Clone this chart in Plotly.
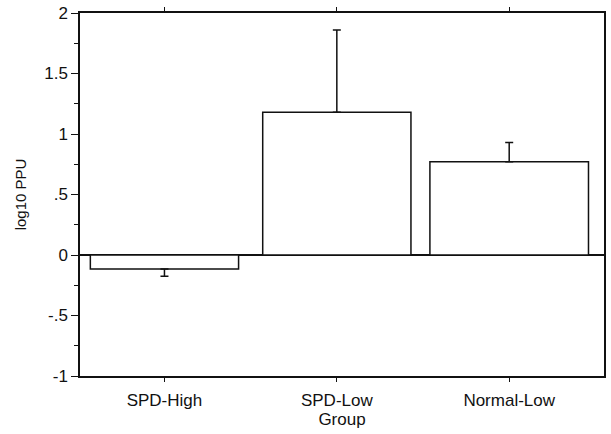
import plotly.graph_objects as go

categories = ["SPD-High", "SPD-Low", "Normal-Low"]
means = [-0.115, 1.18, 0.77]
err_up = [0.0, 0.68, 0.16]
err_down = [0.06, 0.0, 0.0]
y_tick_vals = [-1, -0.5, 0, 0.5, 1, 1.5, 2]
y_tick_text = ["-1", "-.5", "0", ".5", "1", "1.5", "2"]

FONT = "Liberation Sans, Arial, sans-serif"
INK = "#111111"

fig = go.Figure()
fig.add_trace(go.Bar(
    x=list(range(len(categories))),
    y=means,
    width=[0.86, 0.86, 0.92],
    marker=dict(color="white", line=dict(color=INK, width=1.5)),
    error_y=dict(type="data", symmetric=False, array=err_up, arrayminus=err_down,
                 color=INK, thickness=1.5, width=4),
    showlegend=False,
))

fig.update_layout(
    width=611, height=434,
    margin=dict(l=80, r=7, t=13, b=58),
    paper_bgcolor="white", plot_bgcolor="white",
    font=dict(family=FONT, color=INK),
    xaxis=dict(
        automargin=False,
        range=[-0.49, 2.55],
        tickvals=list(range(len(categories))),
        ticktext=categories,
        ticks="outside", ticklen=4, tickwidth=1.2, tickcolor=INK,
        ticklabelstandoff=4,
        showline=True, linecolor=INK, linewidth=1.5, mirror="allticks",
        showgrid=False, zeroline=False,
        tickfont=dict(size=17, family=FONT, color=INK),
        title=dict(text="Group", font=dict(size=17, family=FONT, color=INK), standoff=3),
    ),
    yaxis=dict(
        automargin=False,
        range=[-1, 2],
        tickvals=y_tick_vals, ticktext=y_tick_text,
        ticks="outside", ticklen=7, tickwidth=1.2, tickcolor=INK,
        minor=dict(dtick=0.25, ticks="outside", ticklen=4, tickcolor=INK, showgrid=False),
        showline=True, linecolor=INK, linewidth=1.5, mirror=True,
        showgrid=False,
        zeroline=True, zerolinecolor=INK, zerolinewidth=1.5,
        tickfont=dict(size=17, family=FONT, color=INK),
        title=dict(text="log10 PPU", font=dict(size=15, family=FONT, color=INK), standoff=14),
    ),
    yaxis2=dict(
        automargin=False,
        overlaying="y", side="right", range=[-1, 2],
        tickvals=y_tick_vals, showticklabels=False,
        ticks="inside", ticklen=6, tickwidth=1.2, tickcolor=INK,
        minor=dict(dtick=0.25, ticks="inside", ticklen=4, tickcolor=INK, showgrid=False),
        showline=False, showgrid=False, zeroline=False,
    ),
)

fig.write_html(
    "out.html",
    config={"displayModeBar": False},
    post_script="document.body.style.margin='0';document.body.style.overflow='hidden';",
)
